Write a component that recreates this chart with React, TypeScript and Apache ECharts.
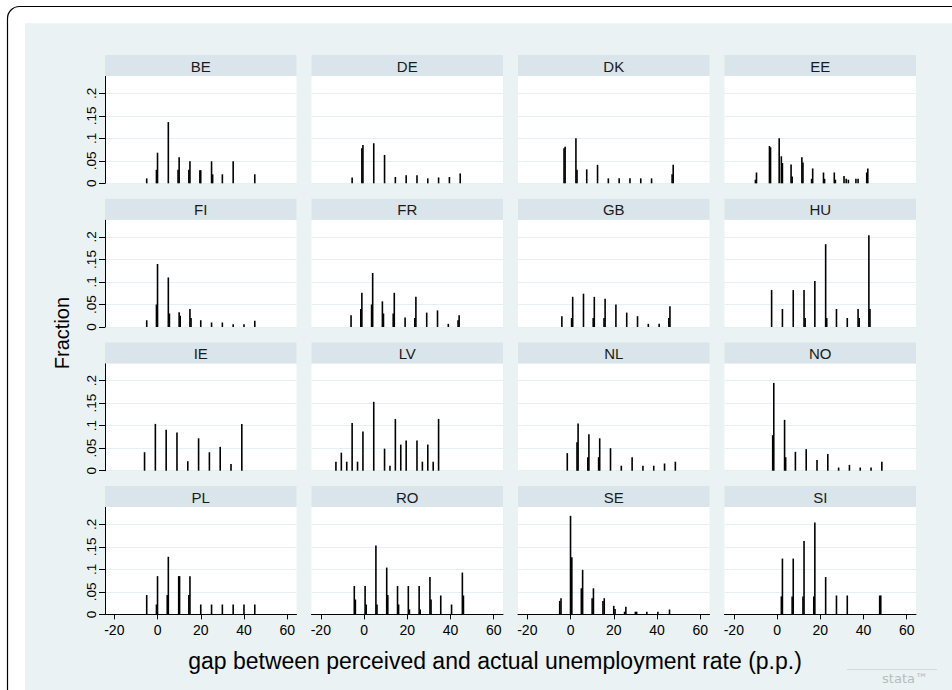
import React, { useEffect, useRef } from "react";
import * as echarts from "echarts";

// ---- data ----
const countries = ["BE", "DE", "DK", "EE", "FI", "FR", "GB", "HU", "IE", "LV", "NL", "NO", "PL", "RO", "SE", "SI"];

const BE = [[-5, 0.011], [-0.5, 0.03], [0, 0.068], [5, 0.136], [9.5, 0.03], [10, 0.058], [14.5, 0.03], [15, 0.049], [19.6, 0.029], [20, 0.029], [25, 0.049], [25.5, 0.02], [30, 0.02], [35, 0.049], [45, 0.02]];
const DE = [[-5.5, 0.013], [-1, 0.078], [-0.5, 0.085], [4.5, 0.089], [9.5, 0.063], [14.5, 0.014], [19.5, 0.018], [24.5, 0.018], [29.5, 0.011], [34.5, 0.013], [39.5, 0.014], [44.5, 0.022]];
const DK = [[-3, 0.078], [-2.5, 0.081], [2.5, 0.1], [3, 0.03], [7.5, 0.031], [12.5, 0.041], [17.5, 0.011], [22.5, 0.011], [27.5, 0.011], [32.5, 0.011], [37.5, 0.011], [47, 0.02], [47.5, 0.041]];
const EE = [[-10, 0.008], [-9.5, 0.024], [-3.5, 0.083], [-3, 0.08], [1, 0.1], [2, 0.06], [2.5, 0.045], [6.5, 0.042], [7, 0.015], [11.5, 0.058], [12, 0.046], [16, 0.01], [16.5, 0.033], [21.5, 0.024], [22, 0.01], [26.5, 0.024], [27, 0.008], [31, 0.016], [32, 0.01], [33, 0.008], [36.5, 0.01], [37.5, 0.01], [41.5, 0.024], [42, 0.033]];
const FI = [[-5, 0.015], [-0.5, 0.05], [0, 0.14], [5, 0.11], [5.5, 0.03], [10, 0.033], [10.5, 0.025], [15, 0.04], [15.5, 0.02], [20, 0.015], [25, 0.01], [30, 0.01], [35, 0.006], [40, 0.006], [45, 0.014]];
const FR = [[-6, 0.026], [-1.5, 0.04], [-1, 0.076], [3.5, 0.05], [4, 0.12], [8.5, 0.057], [9, 0.03], [13.5, 0.03], [14, 0.076], [19, 0.021], [23.5, 0.02], [24, 0.067], [29, 0.032], [34, 0.037], [39, 0.007], [43.5, 0.015], [44, 0.026]];
const GB = [[-4, 0.024], [0.5, 0.02], [1, 0.067], [6, 0.074], [10.5, 0.02], [11, 0.067], [15.5, 0.02], [16, 0.063], [21, 0.05], [26, 0.032], [31, 0.024], [36, 0.007], [41, 0.007], [45.5, 0.02], [46, 0.046]];
const HU = [[-2.5, 0.082], [2.5, 0.04], [7.5, 0.082], [12.5, 0.082], [13, 0.02], [17.5, 0.102], [22.5, 0.184], [23, 0.02], [27.5, 0.04], [32.5, 0.02], [37.5, 0.04], [38, 0.02], [42.5, 0.204], [43, 0.04]];
const IE = [[-6, 0.041], [-1, 0.104], [4, 0.091], [9, 0.085], [14, 0.021], [19, 0.072], [24, 0.041], [29, 0.053], [34, 0.015], [39, 0.104]];
const LV = [[-13, 0.02], [-10.5, 0.04], [-8, 0.02], [-5.5, 0.106], [-3, 0.02], [-0.5, 0.087], [4.5, 0.153], [9.5, 0.049], [12, 0.011], [14.5, 0.115], [17, 0.058], [19.5, 0.067], [24.5, 0.067], [27, 0.02], [29.5, 0.058], [32, 0.02], [34.5, 0.115]];
const NL = [[-1.5, 0.039], [3, 0.063], [3.5, 0.105], [8, 0.03], [8.5, 0.081], [13, 0.03], [13.5, 0.072], [18.5, 0.05], [23.5, 0.011], [28.5, 0.03], [33.5, 0.011], [38.5, 0.011], [43.5, 0.016], [48.5, 0.02]];
const NO = [[-2, 0.079], [-1.5, 0.195], [3.5, 0.113], [4, 0.03], [8.5, 0.042], [13.5, 0.048], [18.5, 0.024], [23.5, 0.037], [28.5, 0.007], [33.5, 0.013], [38.5, 0.007], [43.5, 0.007], [48.5, 0.02]];
const PL = [[-5, 0.043], [-0.5, 0.022], [0, 0.085], [4.5, 0.043], [5, 0.128], [9.8, 0.085], [10.2, 0.085], [14.5, 0.043], [15, 0.085], [20, 0.022], [25, 0.022], [30, 0.022], [35, 0.022], [40, 0.022], [45, 0.022]];
const RO = [[-4.5, 0.063], [-4, 0.033], [0.5, 0.063], [1, 0.022], [5.5, 0.153], [6, 0.022], [10.5, 0.104], [11, 0.043], [15.5, 0.063], [16, 0.022], [20.5, 0.063], [21, 0.011], [25.5, 0.063], [26, 0.011], [30.5, 0.083], [31, 0.033], [35.5, 0.042], [40.5, 0.022], [45.5, 0.093], [46, 0.042]];
const SE = [[-5, 0.03], [-4.4, 0.036], [0, 0.219], [0.6, 0.127], [5, 0.058], [5.6, 0.099], [10, 0.036], [10.6, 0.058], [15, 0.03], [15.6, 0.036], [20, 0.019], [20.6, 0.012], [25, 0.006], [25.6, 0.017], [30, 0.006], [30.6, 0.006], [35.3, 0.006], [40.4, 0.006], [45.8, 0.011]];
const SI = [[2, 0.04], [2.5, 0.124], [7, 0.04], [7.5, 0.124], [12, 0.04], [12.5, 0.163], [17, 0.04], [17.5, 0.204], [22.5, 0.083], [27.5, 0.042], [32.5, 0.042], [47.5, 0.042], [48, 0.042]];

const panelData = [BE, DE, DK, EE, FI, FR, GB, HU, IE, LV, NL, NO, PL, RO, SE, SI];

const xTickValues = [-20, 0, 20, 40, 60];
const yTickValues = [0, 0.05, 0.1, 0.15, 0.2];
const yTickLabels = ["0", ".05", ".1", ".15", ".2"];
const yTitle = "Fraction";
const xTitle = "gap between perceived and actual unemployment rate (p.p.)";

// ---- layout ----
const X_MIN = -24.3;
const X_MAX = 64.3;
const Y_MAX = 0.2384;
const COL_LEFT = [105, 311.5, 518, 724.5];
const PANEL_W = 191.5;
const ROW_TOP = [55, 198.7, 342.4, 486.1];
const HEAD_H = 21;
const PLOT_H = 107.3;
const FONT = '"Liberation Sans", Arial, Helvetica, sans-serif';
const BG = "#eaf2f3";
const HEAD_BG = "#d9e5ea";
const GRID_LINE = "#e6eff1";

export default function App() {
  const ref = useRef<HTMLDivElement>(null);

  useEffect(() => {
    if (!ref.current) return;
    const chart = echarts.init(ref.current, undefined, { renderer: "svg" });

    const grids: any[] = [];
    const xAxes: any[] = [];
    const yAxes: any[] = [];
    const series: any[] = [];
    const graphics: any[] = [
      {
        type: "rect",
        z: -100,
        shape: { x: 7.5, y: 6.5, width: 1000, height: 1000, r: 12 },
        style: { fill: "#fff", stroke: "#000", lineWidth: 1.2 },
      },
      {
        type: "rect",
        z: -99,
        shape: { x: 25, y: 23.3, width: 1000, height: 1000 },
        style: { fill: BG },
      },
    ];

    countries.forEach((name, i) => {
      const r = Math.floor(i / 4);
      const c = i % 4;
      const bottom = r === 3;
      const left = c === 0;
      grids.push({
        left: COL_LEFT[c],
        top: ROW_TOP[r] + HEAD_H,
        width: PANEL_W,
        height: PLOT_H,
        show: true,
        backgroundColor: "#fff",
        borderWidth: 0,
      });
      xAxes.push({
        gridIndex: i,
        type: "value",
        min: X_MIN,
        max: X_MAX,
        axisLine: { show: bottom, onZero: false, lineStyle: { color: "#000", width: 1 } },
        axisTick: { show: bottom, length: 5, customValues: xTickValues, lineStyle: { color: "#000" } },
        axisLabel: {
          show: bottom,
          customValues: xTickValues,
          fontSize: 14,
          fontFamily: FONT,
          color: "#000",
          margin: 9,
        },
        splitLine: { show: false },
      });
      yAxes.push({
        gridIndex: i,
        type: "value",
        min: 0,
        max: Y_MAX,
        interval: 0.05,
        axisLine: { show: left, onZero: false, lineStyle: { color: "#000", width: 1 } },
        axisTick: { show: left, length: 6, customValues: yTickValues, lineStyle: { color: "#000" } },
        axisLabel: {
          show: left,
          customValues: yTickValues,
          rotate: 90,
          fontSize: 13.5,
          fontFamily: FONT,
          color: "#000",
          margin: 7,
          formatter: (v: number) => {
            const k = yTickValues.findIndex((t) => Math.abs(t - v) < 1e-9);
            return k >= 0 ? yTickLabels[k] : "";
          },
        },
        splitLine: { show: true, lineStyle: { color: GRID_LINE, width: 1.2 } },
      });
      series.push({
        type: "bar",
        xAxisIndex: i,
        yAxisIndex: i,
        data: panelData[i],
        barWidth: 1.6,
        itemStyle: { color: "#000" },
        silent: true,
      });
      graphics.push({
        type: "rect",
        z: 10,
        shape: { x: COL_LEFT[c], y: ROW_TOP[r], width: PANEL_W, height: HEAD_H },
        style: { fill: HEAD_BG },
      });
      graphics.push({
        type: "text",
        z: 11,
        x: COL_LEFT[c] + PANEL_W / 2,
        y: ROW_TOP[r] + HEAD_H / 2 + 0.5,
        style: {
          text: name,
          fontSize: 15,
          fontFamily: FONT,
          fill: "#1a1a1a",
          align: "center",
          verticalAlign: "middle",
        },
      });
    });

    graphics.push({
      type: "text",
      z: 11,
      x: 62,
      y: 333,
      rotation: Math.PI / 2,
      style: {
        text: yTitle,
        fontSize: 20,
        fontFamily: FONT,
        fill: "#000",
        align: "center",
        verticalAlign: "middle",
      },
    });
    graphics.push({
      type: "text",
      z: 11,
      x: 495,
      y: 661,
      style: {
        text: xTitle,
        fontSize: 23,
        fontFamily: FONT,
        fill: "#000",
        align: "center",
        verticalAlign: "middle",
      },
    });
    graphics.push({
      type: "line",
      z: 11,
      shape: { x1: 847, y1: 669.5, x2: 937, y2: 669.5 },
      style: { stroke: "#d4d9db", lineWidth: 1 },
    });
    graphics.push({
      type: "text",
      z: 11,
      x: 905,
      y: 678,
      style: {
        text: "stata™",
        fontSize: 13,
        fontFamily: '"DejaVu Sans", sans-serif',
        fill: "#b8bcbe",
        align: "center",
        verticalAlign: "middle",
      },
    });

    chart.setOption({
      animation: false,
      backgroundColor: "#fff",
      grid: grids,
      xAxis: xAxes,
      yAxis: yAxes,
      series,
      graphic: graphics,
    });

    return () => chart.dispose();
  }, []);

  return (
    <div
      ref={ref}
      style={{ position: "fixed", left: 0, top: 0, width: 952, height: 690 }}
    />
  );
}
